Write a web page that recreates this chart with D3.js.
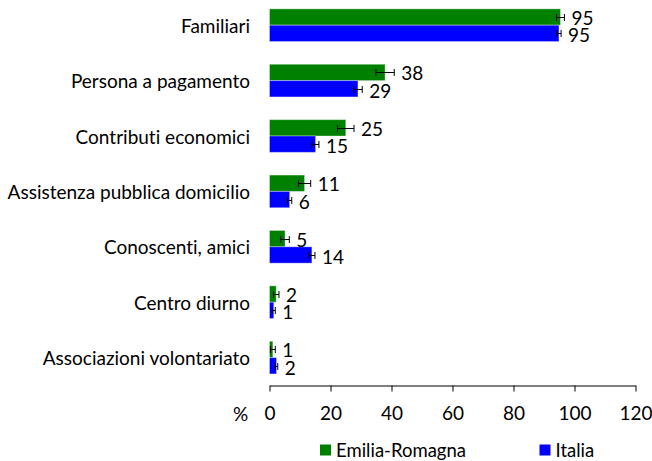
<!DOCTYPE html>
<html><head><meta charset="utf-8">
<script src="https://cdn.jsdelivr.net/npm/d3@7"></script>
<style>
html,body{margin:0;padding:0;background:#fff;}
text{font-family:Lato,"Open Sans",sans-serif;fill:#000;font-variant-ligatures:none;}
</style></head>
<body><svg id="chart" width="652" height="461"></svg>
<script>
const categories = ["Familiari","Persona a pagamento","Contributi economici","Assistenza pubblica domicilio","Conoscenti, amici","Centro diurno","Associazioni volontariato"];
const seriesNames = ["Emilia-Romagna","Italia"];
const seriesColors = ["#008000","#0000FF"];
const valuesER = [95.4, 37.9, 25.0, 11.5, 5.1, 2.2, 1.1];
const valuesIT = [94.9, 29.0, 15.1, 6.6, 13.9, 1.4, 2.3];
const labelsER = [95, 38, 25, 11, 5, 2, 1];
const labelsIT = [95, 29, 15, 6, 14, 1, 2];
const errorsER = [1.3, 3.0, 2.7, 2.0, 1.4, 0.9, 0.8];
const errorsIT = [0.7, 1.4, 1.1, 0.7, 1.0, 0.5, 0.4];
const xTicks = [0, 20, 40, 60, 80, 100, 120];

const FS = 19;
const svg = d3.select("#chart");
const x = d3.scaleLinear().domain([0, 120]).range([269.5, 635.5]);
const y = d3.scaleBand().domain(categories).range([-2.5, 385.3]).paddingInner(0.41).paddingOuter(0.205);
const ys = d3.scaleBand().domain(seriesNames).range([0, y.bandwidth()]);

const rows = [];
categories.forEach((c, i) => {
  rows.push({cat: c, s: seriesNames[0], v: valuesER[i], e: errorsER[i], lab: labelsER[i], col: seriesColors[0], k: 0});
  rows.push({cat: c, s: seriesNames[1], v: valuesIT[i], e: errorsIT[i], lab: labelsIT[i], col: seriesColors[1], k: 1});
});

// bars
svg.append("g").selectAll("rect").data(rows).join("rect")
  .attr("x", x(0))
  .attr("y", d => y(d.cat) + ys(d.s))
  .attr("width", d => x(d.v) - x(0))
  .attr("height", ys.bandwidth())
  .attr("fill", d => d.col)
  .attr("stroke", "#fff").attr("stroke-opacity", 0.35).attr("stroke-width", 1);

// error bars
const eg = svg.append("g").attr("stroke", "#000").attr("stroke-width", 1);
rows.forEach(d => {
  const cy = Math.round(y(d.cat) + ys(d.s) + ys.bandwidth() / 2) + 0.5;
  const x1 = x(d.v - d.e), x2 = x(d.v + d.e);
  eg.append("line").attr("x1", x1).attr("x2", x2).attr("y1", cy).attr("y2", cy);
  eg.append("line").attr("x1", x1).attr("x2", x1).attr("y1", cy - 3.5).attr("y2", cy + 3.5);
  eg.append("line").attr("x1", x2).attr("x2", x2).attr("y1", cy - 3.5).attr("y2", cy + 3.5);
});

// value labels
svg.append("g").selectAll("text").data(rows).join("text")
  .attr("x", d => x(d.v + d.e) + 7)
  .attr("y", d => y(d.cat) + ys(d.s) + ys.bandwidth() / 2 + (d.k ? 1.5 : 0.5))
  .attr("dominant-baseline", "central")
  .style("font-size", FS + "px")
  .text(d => d.lab);

// category labels
svg.append("g").selectAll("text").data(categories).join("text")
  .attr("x", 250)
  .attr("y", d => y(d) + y.bandwidth() / 2)
  .attr("text-anchor", "end")
  .attr("dominant-baseline", "central")
  .style("font-size", FS + "px")
  .text(d => d);

// x axis
const axisY = 385.5;
const xAxis = d3.axisBottom(x).tickValues(xTicks).tickSize(6).tickPadding(15).tickSizeOuter(0);
const ax = svg.append("g").attr("transform", `translate(0,${axisY})`).call(xAxis);
ax.select(".domain").attr("stroke", "#000");
ax.selectAll(".tick line").attr("stroke", "#000");
ax.selectAll(".tick text").style("font-size", FS + "px").attr("fill", "#000");
ax.attr("font-family", null).attr("font-size", null);

svg.append("text").attr("x", 240.5).attr("y", 413.5)
  .attr("text-anchor", "middle").attr("dominant-baseline", "central")
  .style("font-size", FS + "px").text("%");

// legend
const legendX = [320, 539.5];
const lg = svg.append("g");
seriesNames.forEach((s, i) => {
  lg.append("rect").attr("x", legendX[i]).attr("y", 444.5).attr("width", 11).attr("height", 11).attr("fill", seriesColors[i]);
  lg.append("text").attr("x", legendX[i] + 16).attr("y", 449.5).attr("dominant-baseline", "central")
    .style("font-size", "18.5px").text(s);
});
</script></body></html>
